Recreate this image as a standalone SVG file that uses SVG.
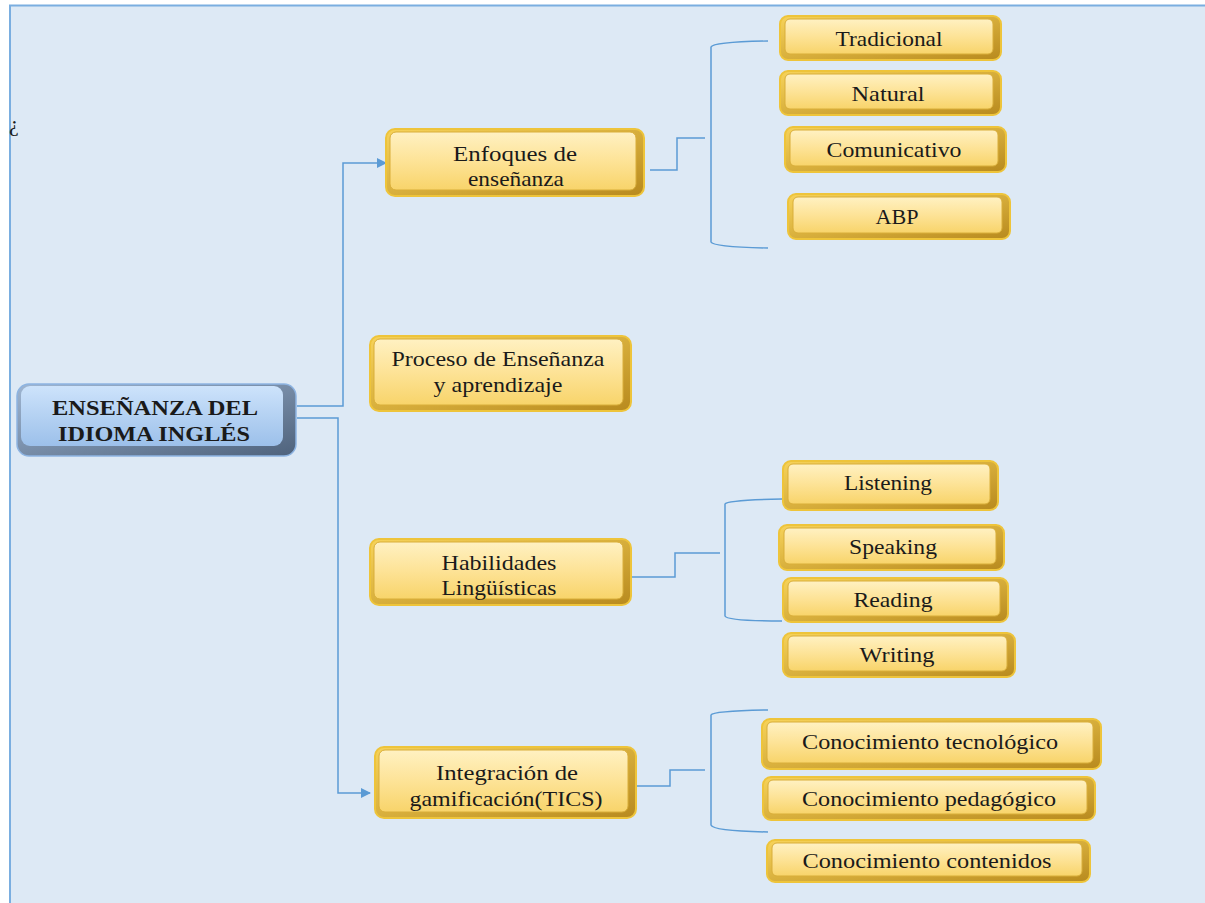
<svg xmlns="http://www.w3.org/2000/svg" width="1205" height="903" viewBox="0 0 1205 903">
<defs>
<linearGradient id="gold" x1="0" y1="0" x2="0" y2="1">
<stop offset="0" stop-color="#fff1c2"/>
<stop offset="0.5" stop-color="#fde397"/>
<stop offset="1" stop-color="#f8d46a"/>
</linearGradient>
<linearGradient id="goldEdge" x1="0" y1="0" x2="1" y2="1">
<stop offset="0" stop-color="#f7d35a"/>
<stop offset="1" stop-color="#b88a1e"/>
</linearGradient>
<linearGradient id="blue" x1="0" y1="0" x2="0" y2="1">
<stop offset="0" stop-color="#cde3fb"/>
<stop offset="1" stop-color="#9cc0ea"/>
</linearGradient>
<linearGradient id="blueEdge" x1="0" y1="0" x2="1" y2="1">
<stop offset="0" stop-color="#9fb6d2"/>
<stop offset="1" stop-color="#4e627c"/>
</linearGradient>
<marker id="arr" viewBox="0 0 10 10" refX="9" refY="5" markerWidth="10" markerHeight="10" markerUnits="userSpaceOnUse" orient="auto">
<path d="M0,0 L10,5 L0,10 z" fill="#5b9bd5"/>
</marker>
</defs>
<style>
.bg{fill:#dde9f5;}
.frame{fill:none;stroke:#7aaee0;stroke-width:2;}
.outer{fill:url(#goldEdge);stroke:#eec43a;stroke-width:2;}
.inner{fill:url(#gold);stroke:#d9ae3a;stroke-width:1;}
.bout{fill:url(#blueEdge);stroke:#8db4e2;stroke-width:1.5;}
.bin{fill:url(#blue);}
text{font-family:'Liberation Serif','Times New Roman',Times,serif;fill:#1a1a1a;}
.t{font-size:21px;text-anchor:middle;}
.tb{font-size:21px;font-weight:bold;text-anchor:middle;}
.c{fill:none;stroke:#5b9bd5;stroke-width:1.5;}
</style>
<rect x="0" y="0" width="1205" height="903" fill="#ffffff"/>
<rect class="bg" x="10" y="5" width="1195" height="898"/>
<path class="frame" d="M10,903 V5.5 H1205"/>
<text x="9" y="131" font-size="22">¿</text>

<g id="connectors">
<path class="c" d="M297,406 H343 V163 H386" marker-end="url(#arr)"/>
<path class="c" d="M297,418 H338 V793 H370" marker-end="url(#arr)"/>
<path class="c" d="M650,170 H677 V138 H705"/>
<path class="c" d="M768,41 Q713,42 711,47 V242 Q713,247 768,248"/>
<path class="c" d="M631,577 H675 V553 H720"/>
<path class="c" d="M782,499 Q727,500 725,504 V616 Q727,621 782,621"/>
<path class="c" d="M636,786 H670 V770 H705"/>
<path class="c" d="M768,710 Q713,711 711,715 V825 Q713,831 768,832"/>
</g>

<g id="root">
<rect class="bout" x="17" y="384" width="279" height="72" rx="12"/>
<rect class="bin" x="21" y="386" width="262" height="60" rx="9"/>
<text class="tb" x="155" y="415" textLength="206" lengthAdjust="spacingAndGlyphs">ENSEÑANZA DEL</text>
<text class="tb" x="154" y="441" textLength="192" lengthAdjust="spacingAndGlyphs">IDIOMA INGLÉS</text>
</g>

<g id="enfoques">
<rect class="outer" x="386" y="129" width="258" height="67" rx="9"/>
<rect class="inner" x="390" y="132" width="246" height="58" rx="6"/>
<text class="t" x="515" y="161" textLength="124" lengthAdjust="spacingAndGlyphs">Enfoques de</text>
<text class="t" x="516" y="186" textLength="96" lengthAdjust="spacingAndGlyphs">enseñanza</text>
</g>
<g id="proceso">
<rect class="outer" x="370" y="336" width="261" height="75" rx="9"/>
<rect class="inner" x="374" y="339" width="249" height="66" rx="6"/>
<text class="t" x="498" y="366" textLength="213" lengthAdjust="spacingAndGlyphs">Proceso de Enseñanza</text>
<text class="t" x="498" y="392" textLength="129" lengthAdjust="spacingAndGlyphs">y aprendizaje</text>
</g>
<g id="habilidades">
<rect class="outer" x="370" y="539" width="261" height="66" rx="9"/>
<rect class="inner" x="374" y="542" width="249" height="57" rx="6"/>
<text class="t" x="499" y="570" textLength="115" lengthAdjust="spacingAndGlyphs">Habilidades</text>
<text class="t" x="499" y="595" textLength="115" lengthAdjust="spacingAndGlyphs">Lingüísticas</text>
</g>
<g id="integracion">
<rect class="outer" x="375" y="747" width="261" height="71" rx="9"/>
<rect class="inner" x="379" y="750" width="249" height="62" rx="6"/>
<text class="t" x="507" y="780" textLength="142" lengthAdjust="spacingAndGlyphs">Integración de</text>
<text class="t" x="506" y="806" textLength="193" lengthAdjust="spacingAndGlyphs">gamificación(TICS)</text>
</g>

<g id="tradicional">
<rect class="outer" x="780" y="16" width="221" height="44" rx="8"/>
<rect class="inner" x="785" y="19" width="208" height="35" rx="5"/>
<text class="t" x="889" y="46" textLength="107" lengthAdjust="spacingAndGlyphs">Tradicional</text>
</g>
<g id="natural">
<rect class="outer" x="780" y="71" width="221" height="44" rx="8"/>
<rect class="inner" x="785" y="74" width="208" height="35" rx="5"/>
<text class="t" x="888" y="101" textLength="73" lengthAdjust="spacingAndGlyphs">Natural</text>
</g>
<g id="comunicativo">
<rect class="outer" x="785" y="127" width="221" height="45" rx="8"/>
<rect class="inner" x="790" y="130" width="208" height="36" rx="5"/>
<text class="t" x="894" y="157" textLength="135" lengthAdjust="spacingAndGlyphs">Comunicativo</text>
</g>
<g id="abp">
<rect class="outer" x="788" y="194" width="222" height="45" rx="8"/>
<rect class="inner" x="793" y="197" width="209" height="36" rx="5"/>
<text class="t" x="897" y="224" textLength="43" lengthAdjust="spacingAndGlyphs">ABP</text>
</g>

<g id="listening">
<rect class="outer" x="783" y="461" width="215" height="49" rx="8"/>
<rect class="inner" x="788" y="464" width="202" height="40" rx="5"/>
<text class="t" x="888" y="490" textLength="88" lengthAdjust="spacingAndGlyphs">Listening</text>
</g>
<g id="speaking">
<rect class="outer" x="779" y="525" width="225" height="45" rx="8"/>
<rect class="inner" x="784" y="528" width="212" height="36" rx="5"/>
<text class="t" x="893" y="554" textLength="88" lengthAdjust="spacingAndGlyphs">Speaking</text>
</g>
<g id="reading">
<rect class="outer" x="783" y="578" width="225" height="44" rx="8"/>
<rect class="inner" x="788" y="581" width="212" height="35" rx="5"/>
<text class="t" x="893" y="607" textLength="79" lengthAdjust="spacingAndGlyphs">Reading</text>
</g>
<g id="writing">
<rect class="outer" x="783" y="633" width="232" height="44" rx="8"/>
<rect class="inner" x="788" y="636" width="219" height="35" rx="5"/>
<text class="t" x="897" y="662" textLength="75" lengthAdjust="spacingAndGlyphs">Writing</text>
</g>

<g id="tecnologico">
<rect class="outer" x="762" y="719" width="339" height="50" rx="8"/>
<rect class="inner" x="767" y="722" width="326" height="41" rx="5"/>
<text class="t" x="930" y="749" textLength="256" lengthAdjust="spacingAndGlyphs">Conocimiento tecnológico</text>
</g>
<g id="pedagogico">
<rect class="outer" x="763" y="777" width="332" height="43" rx="8"/>
<rect class="inner" x="768" y="780" width="319" height="34" rx="5"/>
<text class="t" x="929" y="806" textLength="254" lengthAdjust="spacingAndGlyphs">Conocimiento pedagógico</text>
</g>
<g id="contenidos">
<rect class="outer" x="767" y="840" width="323" height="42" rx="8"/>
<rect class="inner" x="772" y="843" width="310" height="33" rx="5"/>
<text class="t" x="927" y="868" textLength="249" lengthAdjust="spacingAndGlyphs">Conocimiento contenidos</text>
</g>
</svg>
